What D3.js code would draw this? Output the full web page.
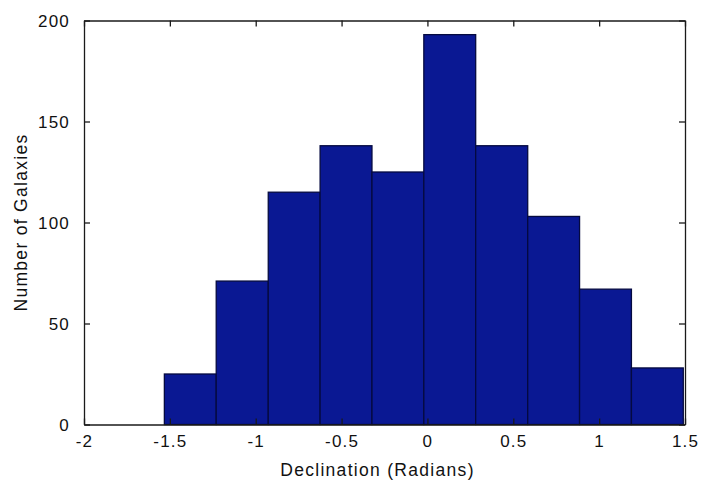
<!DOCTYPE html>
<html>
<head>
<meta charset="utf-8">
<script src="https://cdn.jsdelivr.net/npm/d3@7/dist/d3.min.js"></script>
<style>
  html, body { margin: 0; padding: 0; background: #fff; }
  svg { display: block; }
  text { font-family: "Liberation Sans", Arial, sans-serif; fill: #111; }
</style>
</head>
<body>
<svg id="chart" width="713" height="481"></svg>
<script>
// Histogram bin edges (radians) and counts per bin
const binEdges = [-1.532, -1.230, -0.927, -0.625, -0.323, -0.021, 0.281, 0.584, 0.886, 1.188, 1.490];
const counts = [25, 71, 115, 138, 125, 193, 138, 103, 67, 28];
const xTicks = [-2, -1.5, -1, -0.5, 0, 0.5, 1, 1.5];
const yTicks = [0, 50, 100, 150, 200];
const xLabel = "Declination (Radians)";
const yLabel = "Number of Galaxies";

const svg = d3.select("#chart");
const mLeft = 84, mRight = 685, mTop = 20.5, mBottom = 424.5;

const x = d3.scaleLinear().domain([-2, 1.5]).range([mLeft, mRight]);
const y = d3.scaleLinear().domain([0, 200]).range([mBottom, mTop]);

svg.append("rect").attr("width", 713).attr("height", 481).attr("fill", "#fff");

const bins = counts.map((c, i) => ({ x0: binEdges[i], x1: binEdges[i + 1], c }));

svg.append("g").selectAll("rect").data(bins).join("rect")
  .attr("x", d => x(d.x0))
  .attr("y", d => y(d.c))
  .attr("width", d => x(d.x1) - x(d.x0))
  .attr("height", d => y(0) - y(d.c))
  .attr("fill", "#0a1893")
  .attr("stroke", "#050a40")
  .attr("stroke-width", 1.3);

const tickLen = 6;
const fontSize = 17;
const ls = "1.2px";
const fmt = d => String(d);

const xAxisB = d3.axisBottom(x).tickValues(xTicks).tickSizeInner(-tickLen).tickSizeOuter(0)
  .tickPadding(10).tickFormat(fmt);
const gxb = svg.append("g").attr("transform", `translate(0,${mBottom})`).call(xAxisB);
const gxt = svg.append("g").attr("transform", `translate(0,${mTop})`)
  .call(d3.axisTop(x).tickValues(xTicks).tickSizeInner(-tickLen).tickSizeOuter(0).tickFormat(""));
const gyl = svg.append("g").attr("transform", `translate(${mLeft},0)`)
  .call(d3.axisLeft(y).tickValues(yTicks).tickSizeInner(-tickLen).tickSizeOuter(0).tickPadding(14).tickFormat(fmt));
const gyr = svg.append("g").attr("transform", `translate(${mRight},0)`)
  .call(d3.axisRight(y).tickValues(yTicks).tickSizeInner(-tickLen).tickSizeOuter(0).tickFormat(""));

[gxb, gxt, gyl, gyr].forEach(g => {
  g.select(".domain").attr("stroke", "#1a1a1a").attr("stroke-width", 1.3);
  g.selectAll(".tick line").attr("stroke", "#1a1a1a").attr("stroke-width", 1.3);
  g.selectAll(".tick text")
    .attr("font-family", "Liberation Sans, Arial, sans-serif")
    .attr("font-size", fontSize)
    .attr("fill", "#222")
    .style("letter-spacing", ls);
});
gxb.selectAll(".tick text").attr("dy", "0.71em");
gyl.selectAll(".tick text").attr("dy", "0.34em");

svg.append("text")
  .attr("x", (mLeft + mRight) / 2 - 7)
  .attr("y", 476)
  .attr("text-anchor", "middle")
  .attr("font-size", 17.5)
  .attr("fill", "#222")
  .style("letter-spacing", "1.3px")
  .text(xLabel);

svg.append("text")
  .attr("transform", `translate(27,${(mTop + mBottom) / 2}) rotate(-90)`)
  .attr("text-anchor", "middle")
  .attr("font-size", 17.5)
  .attr("fill", "#222")
  .style("letter-spacing", "1.3px")
  .text(yLabel);
</script>
</body>
</html>
